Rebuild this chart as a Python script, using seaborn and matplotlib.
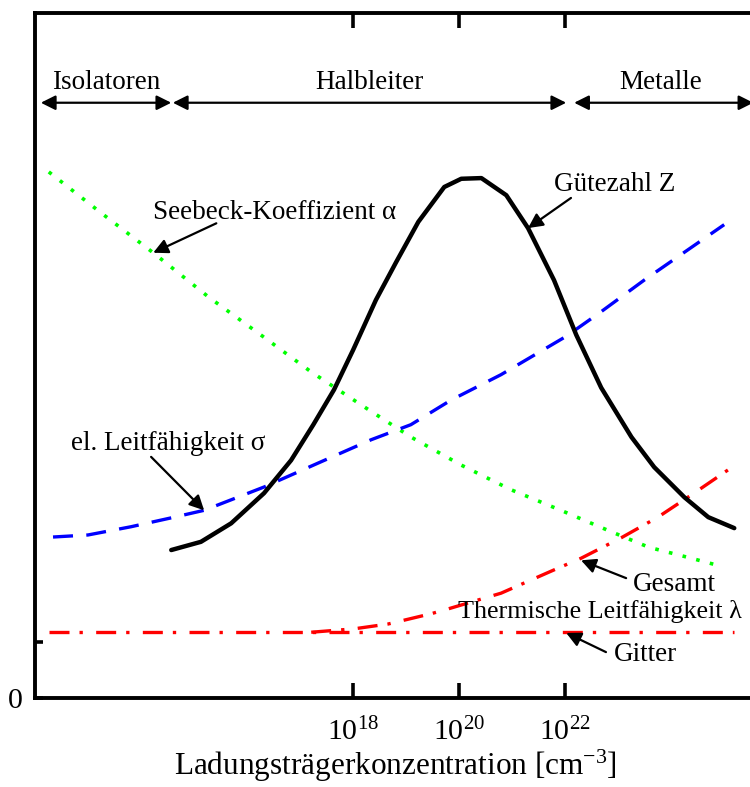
import numpy as np
import pandas as pd
import matplotlib
matplotlib.use('Agg')
import matplotlib.pyplot as plt
import seaborn as sns

sns.set_theme(style='white')
plt.rcParams['font.family'] = ['Liberation Serif', 'DejaVu Serif']
plt.rcParams['mathtext.fontset'] = 'custom'
plt.rcParams['mathtext.rm'] = 'Liberation Serif'
plt.rcParams['mathtext.it'] = 'Liberation Serif:italic'
plt.rcParams['text.color'] = 'black'
plt.rcParams['axes.labelcolor'] = 'black'

# x = log10(Ladungsträgerkonzentration / cm^-3), y = relative Größe (0..10)
z_x = [14.57, 15.13, 15.70, 16.32, 16.83, 17.25, 17.64, 18.00, 18.43, 18.81, 19.23, 19.72,
       20.04, 20.42, 20.89, 21.30, 21.79, 22.21, 22.68, 23.25, 23.68, 24.25, 24.70, 25.19]
z_y = [2.16, 2.28, 2.55, 2.99, 3.47, 3.99, 4.50, 5.08, 5.81, 6.36, 6.95, 7.46,
       7.58, 7.59, 7.34, 6.86, 6.10, 5.30, 4.53, 3.81, 3.37, 2.93, 2.64, 2.48]

alpha_x = [12.26, 13.25, 14.23, 15.28, 16.26, 17.21, 18.15, 19.09, 20.04, 20.98,
           21.92, 22.83, 23.58, 24.38, 24.91]
alpha_y = [7.68, 7.08, 6.50, 5.85, 5.30, 4.76, 4.28, 3.81, 3.40, 3.04,
           2.74, 2.44, 2.20, 2.04, 1.93]

sigma_x = [12.34, 13.00, 13.81, 14.57, 15.19, 16.32, 17.40, 18.34, 19.09, 19.85,
           20.79, 22.02, 22.68, 23.49, 25.00]
sigma_y = [2.35, 2.38, 2.50, 2.63, 2.74, 3.08, 3.45, 3.77, 3.99, 4.35,
           4.72, 5.28, 5.64, 6.10, 6.91]

gesamt_x = [17.21, 18.02, 18.66, 19.47, 19.79, 20.79, 21.79, 22.30, 23.06, 23.75, 24.43, 25.13]
gesamt_y = [0.96, 1.01, 1.08, 1.23, 1.30, 1.53, 1.87, 2.04, 2.34, 2.64, 2.99, 3.36]

gitter_x = [12.26, 25.19]
gitter_y = [0.96, 0.96]

x_ticks = [18, 20, 22]
x_ticklabels = ['$10^{18}$', '$10^{20}$', '$10^{22}$']

fig = plt.figure(figsize=(7.5, 7.87), dpi=100)
ax = fig.add_axes([35 / 750, 89 / 787, 721 / 750, 685 / 787])

lw = 2.4
sns.lineplot(x=gitter_x, y=gitter_y, ax=ax, color='red', lw=lw,
             linestyle=(0, (6, 3, 1, 4)), errorbar=None)
sns.lineplot(x=gesamt_x, y=gesamt_y, ax=ax, color='red', lw=lw,
             linestyle=(0, (6, 3, 1, 4)), errorbar=None)
sns.lineplot(x=alpha_x, y=alpha_y, ax=ax, color='#00ff00', lw=2.6,
             linestyle=(0, (1, 2.9)), errorbar=None)
sns.lineplot(x=sigma_x, y=sigma_y, ax=ax, color='blue', lw=lw,
             linestyle=(0, (6, 4)), errorbar=None)
sns.lineplot(x=z_x, y=z_y, ax=ax, color='black', lw=3.2, errorbar=None)

ax.set_xlim(12.0, 25.6)
ax.set_ylim(0, 10)

for side in ['left', 'bottom', 'top']:
    ax.spines[side].set_linewidth(2.8)
    ax.spines[side].set_color('black')
ax.spines['right'].set_visible(False)

ax.set_xticks(x_ticks)
ax.set_xticklabels(x_ticklabels, fontsize=21.5)
ax.tick_params(axis='x', direction='in', length=11, width=2.6, top=True, bottom=True,
               pad=14, colors='black')
ax.set_yticks([0, 0.82])
ax.set_yticklabels(['0', ''], fontsize=21.5)
ax.tick_params(axis='y', direction='in', length=6, width=2.6, left=True, pad=9, colors='black')

ax.set_xlabel('Ladungsträgerkonzentration [cm$^{-3}$]', fontsize=22.5, labelpad=1, color='black')
ax.set_ylabel('')

# Bereiche oben
fs = 19.5
arr = dict(arrowstyle='<|-|>', lw=1.6, color='black', mutation_scale=22, shrinkA=0, shrinkB=0)
for x0, x1, xt, label in [(12.11, 14.57, 13.34, 'Isolatoren'),
                          (14.60, 22.02, 18.30, 'Halbleiter'),
                          (22.17, 25.55, 23.81, 'Metalle')]:
    ax.annotate('', xy=(x1, 8.69), xytext=(x0, 8.69), arrowprops=arr, annotation_clip=False)
    ax.text(xt, 8.99, label, fontsize=fs, ha='center', va='center', color='black')

# Beschriftungen mit Pfeilen
one = dict(arrowstyle='-|>', lw=1.6, color='black', mutation_scale=22, shrinkA=0, shrinkB=0)
ax.text(14.23, 7.09, 'Seebeck-Koeffizient α', fontsize=fs, ha='left', va='center', color='black')
ax.annotate('', xy=(14.23, 6.50), xytext=(15.42, 6.93), arrowprops=one)
ax.text(21.79, 7.49, 'Gütezahl Z', fontsize=fs, ha='left', va='center', color='black')
ax.annotate('', xy=(21.30, 6.86), xytext=(22.11, 7.30), arrowprops=one)
ax.text(12.68, 3.72, 'el. Leitfähigkeit σ', fontsize=fs, ha='left', va='center', color='black')
ax.annotate('', xy=(15.19, 2.74), xytext=(14.19, 3.52), arrowprops=one)
ax.text(23.28, 1.66, 'Gesamt', fontsize=fs, ha='left', va='center', color='black')
ax.annotate('', xy=(22.30, 2.01), xytext=(23.15, 1.75), arrowprops=one)
ax.text(19.98, 1.26, 'Thermische Leitfähigkeit λ', fontsize=18.8, ha='left', va='center',
        color='black')
ax.text(22.92, 0.63, 'Gitter', fontsize=fs, ha='left', va='center', color='black')
ax.annotate('', xy=(22.02, 0.95), xytext=(22.77, 0.67), arrowprops=one)

fig.savefig('out.png', dpi=100)
